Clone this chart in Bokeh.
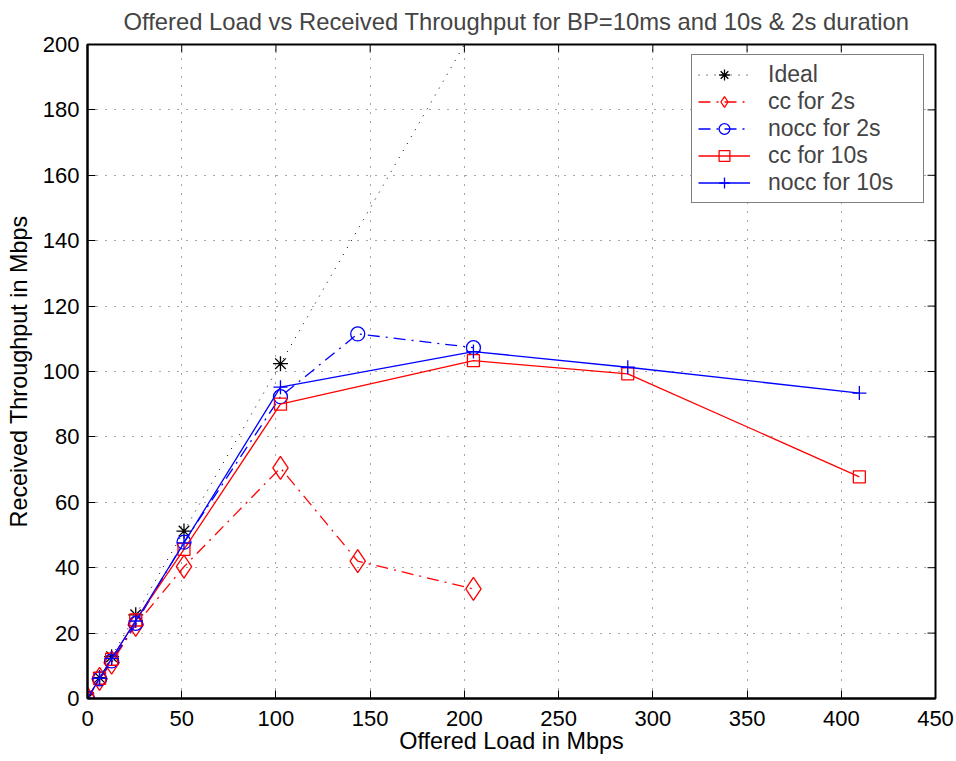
from bokeh.plotting import figure
from bokeh.models import Range1d, FixedTicker, Legend, LegendItem
from bokeh.embed import file_html
from bokeh.resources import INLINE

# ---- data ----
ideal_x = [0, 6.4, 12.8, 25.6, 51.2, 102.4, 204.8]
ideal_y = [0, 6.4, 12.8, 25.6, 51.2, 102.4, 204.8]

cc2_x = [0, 6.4, 12.8, 25.6, 51.2, 102.4, 143.4, 204.8]
cc2_y = [0, 6.0, 11.0, 22.5, 40.3, 70.5, 42.0, 33.5]

nocc2_x = [0, 6.4, 12.8, 25.6, 51.2, 102.4, 143.4, 204.8]
nocc2_y = [0, 6.0, 11.5, 23.0, 47.8, 92.3, 111.5, 107.3]

cc10_x = [0, 6.4, 12.8, 25.6, 51.2, 102.4, 204.8, 286.7, 409.6]
cc10_y = [0, 6.2, 12.0, 24.0, 45.6, 90.0, 103.3, 99.3, 67.8]

nocc10_x = [0, 6.4, 12.8, 25.6, 51.2, 102.4, 204.8, 286.7, 409.6]
nocc10_y = [0, 6.2, 12.3, 23.7, 47.6, 95.2, 106.1, 101.3, 93.4]

x_ticks = [0, 50, 100, 150, 200, 250, 300, 350, 400, 450]
y_ticks = [0, 20, 40, 60, 80, 100, 120, 140, 160, 180, 200]

title_text = "Offered Load vs Received Throughput for BP=10ms and 10s & 2s duration"
x_label = "Offered Load in Mbps"
y_label = "Received Throughput in Mbps"

FONT = "Liberation Sans"
X0, X1 = 0, 450
Y0, Y1 = 0, 200
FRAME_W, FRAME_H = 848, 654
TICK_PX = 8

p = figure(width=956, height=761, output_backend="svg", toolbar_location=None,
           x_range=Range1d(X0, X1), y_range=Range1d(Y0, Y1),
           min_border_left=87, min_border_right=21, min_border_top=44,
           min_border_bottom=63, background_fill_color="white",
           border_fill_color="white")

p.title.text = title_text
p.title.align = "left"
p.title.offset = 36
p.title.vertical_align = "top"
p.title.text_font = FONT
p.title.text_font_size = "23.8px"
p.title.text_font_style = "normal"
p.title.standoff = 15

p.outline_line_color = "black"
p.outline_line_width = 2

xt = FixedTicker(ticks=x_ticks, minor_ticks=[])
yt = FixedTicker(ticks=y_ticks, minor_ticks=[])

xa = p.xaxis[0]
ya = p.yaxis[0]
xa.ticker = xt
ya.ticker = yt
for ax in (xa, ya):
    ax.axis_line_color = "black"
    ax.axis_line_width = 2
    ax.major_tick_in = TICK_PX
    ax.major_tick_out = 0
    ax.major_tick_line_color = "black"
    ax.major_tick_line_width = 1
    ax.minor_tick_line_color = None
    ax.major_label_text_font = FONT
    ax.major_label_text_font_size = "22px"
    ax.major_label_text_color = "black"
    ax.axis_label_text_font = FONT
    ax.axis_label_text_font_size = "23.4px"
    ax.axis_label_text_font_style = "normal"
    ax.axis_label_text_color = "black"
xa.axis_label = x_label
xa.major_label_standoff = 12
xa.axis_label_standoff = -1
ya.axis_label = y_label
ya.major_label_standoff = 8
ya.axis_label_standoff = 8

# mirrored inward ticks on top and right edges of the box
dy = TICK_PX * (Y1 - Y0) / FRAME_H
dx = TICK_PX * (X1 - X0) / FRAME_W
p.segment(x0=x_ticks, y0=[Y1] * len(x_ticks), x1=x_ticks, y1=[Y1 - dy] * len(x_ticks),
          line_color="black", line_width=1)
p.segment(x0=[X1] * len(y_ticks), y0=y_ticks, x1=[X1 - dx] * len(y_ticks), y1=y_ticks,
          line_color="black", line_width=1)

p.grid.grid_line_color = "black"
p.grid.grid_line_alpha = 0.7
p.grid.grid_line_dash = "1 8"
p.grid.grid_line_width = 1
p.xgrid.ticker = xt
p.ygrid.ticker = yt

LW = 1.3
r_ideal_l = p.line(ideal_x, ideal_y, line_color="black", line_dash="1 7", line_width=1)
r_ideal_m = p.scatter(ideal_x, ideal_y, marker="asterisk", size=15, line_color="black",
                      line_width=1.3, fill_color=None)

r_cc2_l = p.line(cc2_x, cc2_y, line_color="red", line_dash="12 6 2 6", line_width=LW)
r_cc2_m = p.scatter(cc2_x, cc2_y, marker="diamond", size=23, line_color="red",
                    line_width=LW, fill_color=None)

r_nocc2_l = p.line(nocc2_x, nocc2_y, line_color="blue", line_dash="12 6 2 6", line_width=LW)
r_nocc2_m = p.scatter(nocc2_x, nocc2_y, marker="circle", size=14, line_color="blue",
                      line_width=LW, fill_color=None)

r_cc10_l = p.line(cc10_x, cc10_y, line_color="red", line_width=LW)
r_cc10_m = p.scatter(cc10_x, cc10_y, marker="square", size=12, line_color="red",
                     line_width=LW, fill_color=None)

r_nocc10_l = p.line(nocc10_x, nocc10_y, line_color="blue", line_width=LW)
r_nocc10_m = p.scatter(nocc10_x, nocc10_y, marker="cross", size=14, line_color="blue",
                       line_width=LW, fill_color=None)

legend = Legend(items=[
    LegendItem(label="Ideal", renderers=[r_ideal_l, r_ideal_m]),
    LegendItem(label="cc for 2s", renderers=[r_cc2_l, r_cc2_m]),
    LegendItem(label="nocc for 2s", renderers=[r_nocc2_l, r_nocc2_m]),
    LegendItem(label="cc for 10s", renderers=[r_cc10_l, r_cc10_m]),
    LegendItem(label="nocc for 10s", renderers=[r_nocc10_l, r_nocc10_m]),
], location=(604, 495))
legend.margin = 0
legend.padding = 6
legend.spacing = 0
legend.glyph_width = 52
legend.glyph_height = 27
legend.label_height = 27
legend.label_width = 149
legend.label_standoff = 18
legend.label_text_font = FONT
legend.label_text_font_size = "23px"
legend.border_line_color = "black"
legend.border_line_width = 1.5
legend.background_fill_color = "white"
legend.background_fill_alpha = 1
p.add_layout(legend, "center")

open("out.html", "w").write(file_html(p, INLINE))
